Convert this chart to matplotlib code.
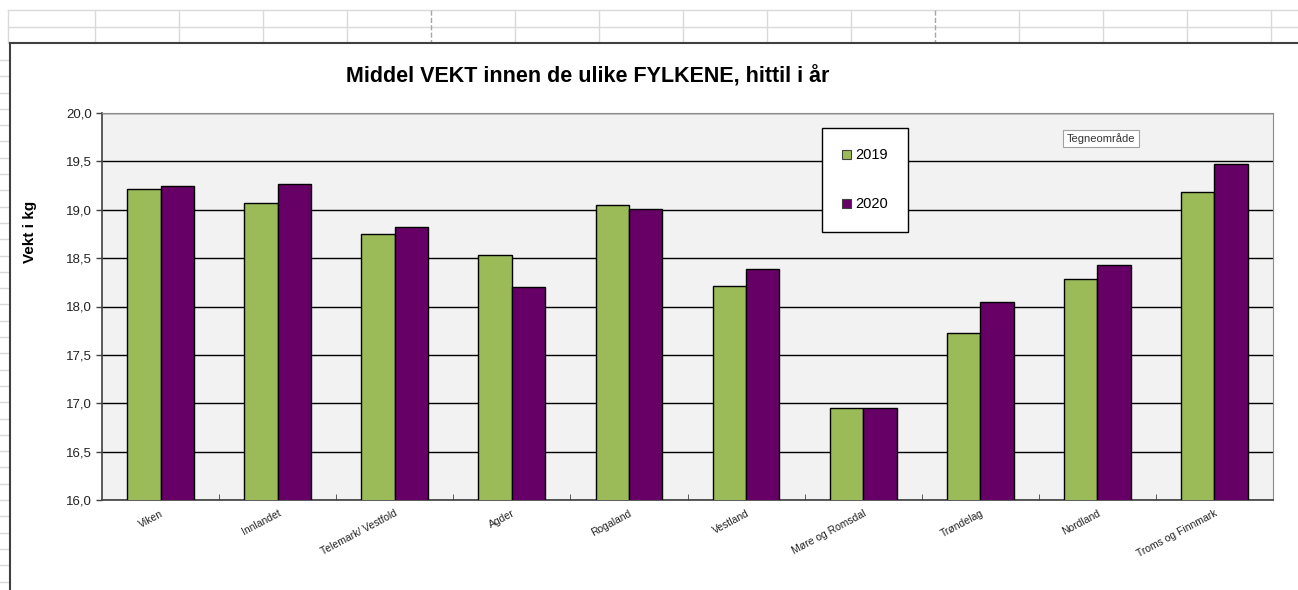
"""
Middel vekt per fylke, 2019 mot 2020 (Excel-stil)
"""
import numpy as np
import matplotlib
matplotlib.use("Agg")
import matplotlib.pyplot as plt
from matplotlib.lines import Line2D
from matplotlib.patches import Patch

plt.rcParams['font.family'] = ['Liberation Sans', 'DejaVu Sans']

# Data
fylker = ["Viken", "Innlandet", "Telemark/ Vestfold", "Agder", "Rogaland",
          "Vestland", "Møre og Romsdal", "Trøndelag", "Nordland",
          "Troms og Finnmark"]
vekt_2019 = [19.21, 19.07, 18.75, 18.53, 19.05, 18.21, 16.95, 17.73, 18.28, 19.18]
vekt_2020 = [19.25, 19.27, 18.82, 18.20, 19.01, 18.39, 16.95, 18.05, 18.43, 19.47]
serier = ["2019", "2020"]
y_ticks = [16.0, 16.5, 17.0, 17.5, 18.0, 18.5, 19.0, 19.5, 20.0]

GREEN = '#9BBB59'
PURPLE = '#660066'

W, H = 1298, 590
fig = plt.figure(figsize=(W / 100, H / 100), dpi=100)

def fx(px):
    return px / W

def fy(py):
    return 1 - py / H

# Spreadsheet background (cell gridlines above the chart)
for yy in (10, 27):
    fig.add_artist(Line2D([fx(8), 1], [fy(yy), fy(yy)], color='#d9d9d9', lw=1))
fig.add_artist(Line2D([fx(8), fx(8)], [fy(10), fy(43)], color='#d9d9d9', lw=1))
for i, xx in enumerate(np.arange(94.5, W, 84.0)):
    ls = '--' if i in (4, 10) else '-'
    col = '#a6a6a6' if ls == '--' else '#d9d9d9'
    fig.add_artist(Line2D([fx(xx), fx(xx)], [fy(10), fy(43)], color=col, lw=1, ls=ls))
for yy in np.arange(60, H, 16.3):
    fig.add_artist(Line2D([0, fx(8)], [fy(yy), fy(yy)], color='#d9d9d9', lw=1))

# Chart frame
fig.add_artist(Line2D([fx(10), 1], [fy(43), fy(43)], color='#404040', lw=1.5))
fig.add_artist(Line2D([fx(10), fx(10)], [fy(43), 0], color='#404040', lw=1.5))

# Plot area
ax = fig.add_axes([fx(102), fy(500), fx(1273) - fx(102), (500 - 113) / H])
ax.set_facecolor('#f2f2f2')

x = np.arange(len(fylker))
w = 0.285
ax.bar(x - w / 2, vekt_2019, w, color=GREEN, edgecolor='black', lw=1, zorder=3)
ax.bar(x + w / 2, vekt_2020, w, color=PURPLE, edgecolor='black', lw=1, zorder=3)

ax.set_ylim(16, 20)
ax.set_xlim(-0.5, len(fylker) - 0.5)
ax.set_yticks(y_ticks)
ax.set_yticklabels(["{:.1f}".format(v).replace('.', ',') for v in y_ticks],
                   fontsize=9.5, color='#222222')
ax.tick_params(axis='y', direction='out', length=4, width=1, pad=3, color='#404040')
ax.yaxis.grid(True, color='black', lw=1, zorder=1)
ax.set_axisbelow(True)

ax.set_xticks(x)
ax.set_xticklabels(fylker, fontsize=7.5, rotation=28, ha='right', va='top',
                   rotation_mode='anchor', color='#222222')
ax.tick_params(axis='x', length=0, pad=6)
ax.set_xticks(np.arange(0.5, len(fylker) - 0.5), minor=True)
ax.tick_params(axis='x', which='minor', direction='in', length=4, color='#404040')

for side in ('top', 'right'):
    ax.spines[side].set_color('#8c8c8c')
for side in ('left', 'bottom'):
    ax.spines[side].set_color('#404040')
    ax.spines[side].set_linewidth(1.2)

# Title and axis label
fig.text(fx(588), fy(77), "Middel VEKT innen de ulike FYLKENE, hittil i år",
         ha='center', va='center', fontsize=15.5, fontweight='bold')
fig.text(fx(30), fy(232), "Vekt i kg", ha='center', va='center', rotation=90,
         fontsize=11, fontweight='bold')

# Legend
handles = [Patch(facecolor=GREEN, edgecolor='#404040', lw=0.8),
           Patch(facecolor=PURPLE, edgecolor='#404040', lw=0.8)]
leg = fig.legend(handles, serier, loc='upper left',
                 bbox_to_anchor=(fx(822), fy(128)), fontsize=10.5,
                 frameon=True, fancybox=False, framealpha=1,
                 borderpad=1.4, labelspacing=2.4,
                 handlelength=0.6, handleheight=0.6, handletextpad=0.25,
                 borderaxespad=0)
leg.get_frame().set_edgecolor('black')
leg.get_frame().set_linewidth(1)

# Excel tooltip
fig.text(fx(1101), fy(138.5), "Tegneområde", ha='center', va='center',
         fontsize=8, color='#333333',
         bbox=dict(boxstyle='square,pad=0.3', facecolor='white',
                   edgecolor='#a0a0a0', lw=0.8))

fig.savefig("out.png", dpi=100)
